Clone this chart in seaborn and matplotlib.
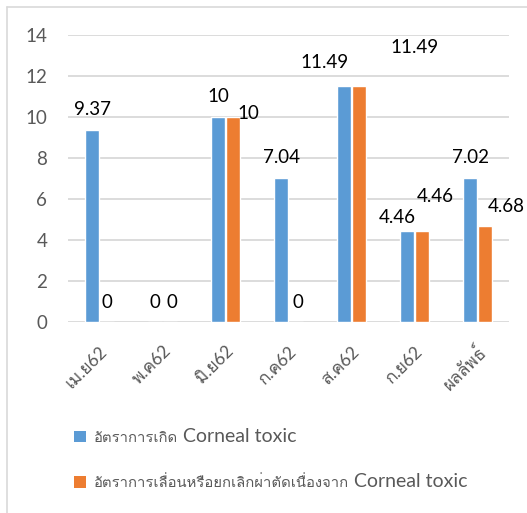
import matplotlib
matplotlib.use("Agg")
import matplotlib.pyplot as plt
from matplotlib import font_manager
from matplotlib.ft2font import FT2Font
from matplotlib.lines import Line2D
from matplotlib.patches import Patch
from matplotlib.text import Annotation
from matplotlib.transforms import ScaledTranslation
import seaborn as sns
import pandas as pd

# ---- data ----
months = ["เม.ย62", "พ.ค62", "มิ.ย62", "ก.ค62", "ส.ค62", "ก.ย62", "ผลลัพธ์"]
series_thai = ["อัตราการเกิด", "อัตราการเลื่อนหรือยกเลิกผ่าตัดเนื่องจาก"]
series_suffix = "Corneal toxic"
series_names = [f"{t} {series_suffix}" for t in series_thai]
incidence = [9.37, 0, 10, 7.04, 11.49, 4.46, 7.02]
postponed = [0, 0, 10, 0, 11.49, 4.46, 4.68]
y_ticks = [0, 2, 4, 6, 8, 10, 12, 14]

colors = ["#5b9bd5", "#ed7d31"]
text_gray = "#595959"


def thai_font():
    """Return the name of an installed font that covers Thai, if any."""
    for fe in font_manager.fontManager.ttflist:
        try:
            cmap = FT2Font(fe.fname).get_charmap()
            if 0x0E01 in cmap and 0x0E40 in cmap:
                return fe.name
        except Exception:
            continue
    return None


sns.set_theme(style="white")
tf = thai_font()
families = ["Lato"] + ([tf] if tf else []) + ["DejaVu Sans"]
plt.rcParams["font.family"] = families

df = pd.DataFrame({
    "month": months * 2,
    "value": incidence + postponed,
    "series": [series_names[0]] * len(months) + [series_names[1]] * len(months),
})

fig = plt.figure(figsize=(5.27, 5.13), dpi=100)
ax = fig.add_axes([0.129, 0.372, 0.837, 0.56])

sns.barplot(data=df, x="month", y="value", hue="series", order=months,
            hue_order=series_names, palette=colors, width=0.47, gap=0.06,
            saturation=1, ax=ax, legend=False)

ax.set_ylim(0, 14)
ax.set_xlim(-0.5, len(months) - 0.5)
ax.set_yticks(y_ticks)
ax.set_yticklabels([str(t) for t in y_ticks])
ax.yaxis.grid(True, color="#d9d9d9", linewidth=1.3)
ax.set_axisbelow(True)
for s in ax.spines.values():
    s.set_visible(False)
ax.set_xlabel("")
ax.set_ylabel("")
ax.tick_params(axis="y", length=0, labelsize=13.5, labelcolor=text_gray, pad=15)
ax.tick_params(axis="x", length=0, labelsize=12.5, labelcolor=text_gray, pad=19)
shift = ScaledTranslation(4 / 72, 0, fig.dpi_scale_trans)
for lbl in ax.get_xticklabels():
    lbl.set_rotation(45)
    lbl.set_ha("right")
    lbl.set_va("center")
    lbl.set_rotation_mode("anchor")
    lbl.set_transform(lbl.get_transform() + shift)

# value labels, offset in points from each bar top
offsets_inc = [(0, 10.8), (0, 10), (0, 10.8), (0, 10.8), (-14.4, 13.3), (-7.2, 5.5), (0, 10.8)]
offsets_pos = [(0, 10), (1.4, 10), (10.8, -1.4), (1.4, 10), (40.3, 24.1), (9.4, 20.6), (15.1, 10)]
for bars, vals, offs in ((ax.containers[0], incidence, offsets_inc),
                         (ax.containers[1], postponed, offsets_pos)):
    for rect, v, (dx, dy) in zip(bars, vals, offs):
        ax.annotate(f"{v:g}", (rect.get_x() + rect.get_width() / 2, v),
                    xytext=(dx, dy), textcoords="offset points",
                    ha="center", va="baseline", fontsize=13.5, color="black")

handles = [Patch(facecolor=c, edgecolor="none") for c in colors]
leg = fig.legend(handles, series_thai, loc="upper left",
                 bbox_to_anchor=(0.13, 0.172), frameon=False, fontsize=10.7,
                 labelcolor=text_gray, handlelength=0.8, handleheight=0.8,
                 handletextpad=0.5, labelspacing=2.05, borderaxespad=0)

# the Latin part of each legend entry is set in a larger size
for t in leg.get_texts():
    fig.add_artist(Annotation(series_suffix, xy=(1, 0), xycoords=t,
                              xytext=(4, 0), textcoords="offset points",
                              ha="left", va="bottom", fontsize=14,
                              color=text_gray, zorder=10))

# outer chart frame (top and left edges)
fig.add_artist(Line2D([7 / 527, 1], [1 - 7 / 513] * 2, transform=fig.transFigure,
                      color="#d9d9d9", linewidth=1.2))
fig.add_artist(Line2D([7 / 527] * 2, [0, 1 - 7 / 513], transform=fig.transFigure,
                      color="#d9d9d9", linewidth=1.2))

fig.canvas.draw()
fig.savefig("out.png", dpi=100)
